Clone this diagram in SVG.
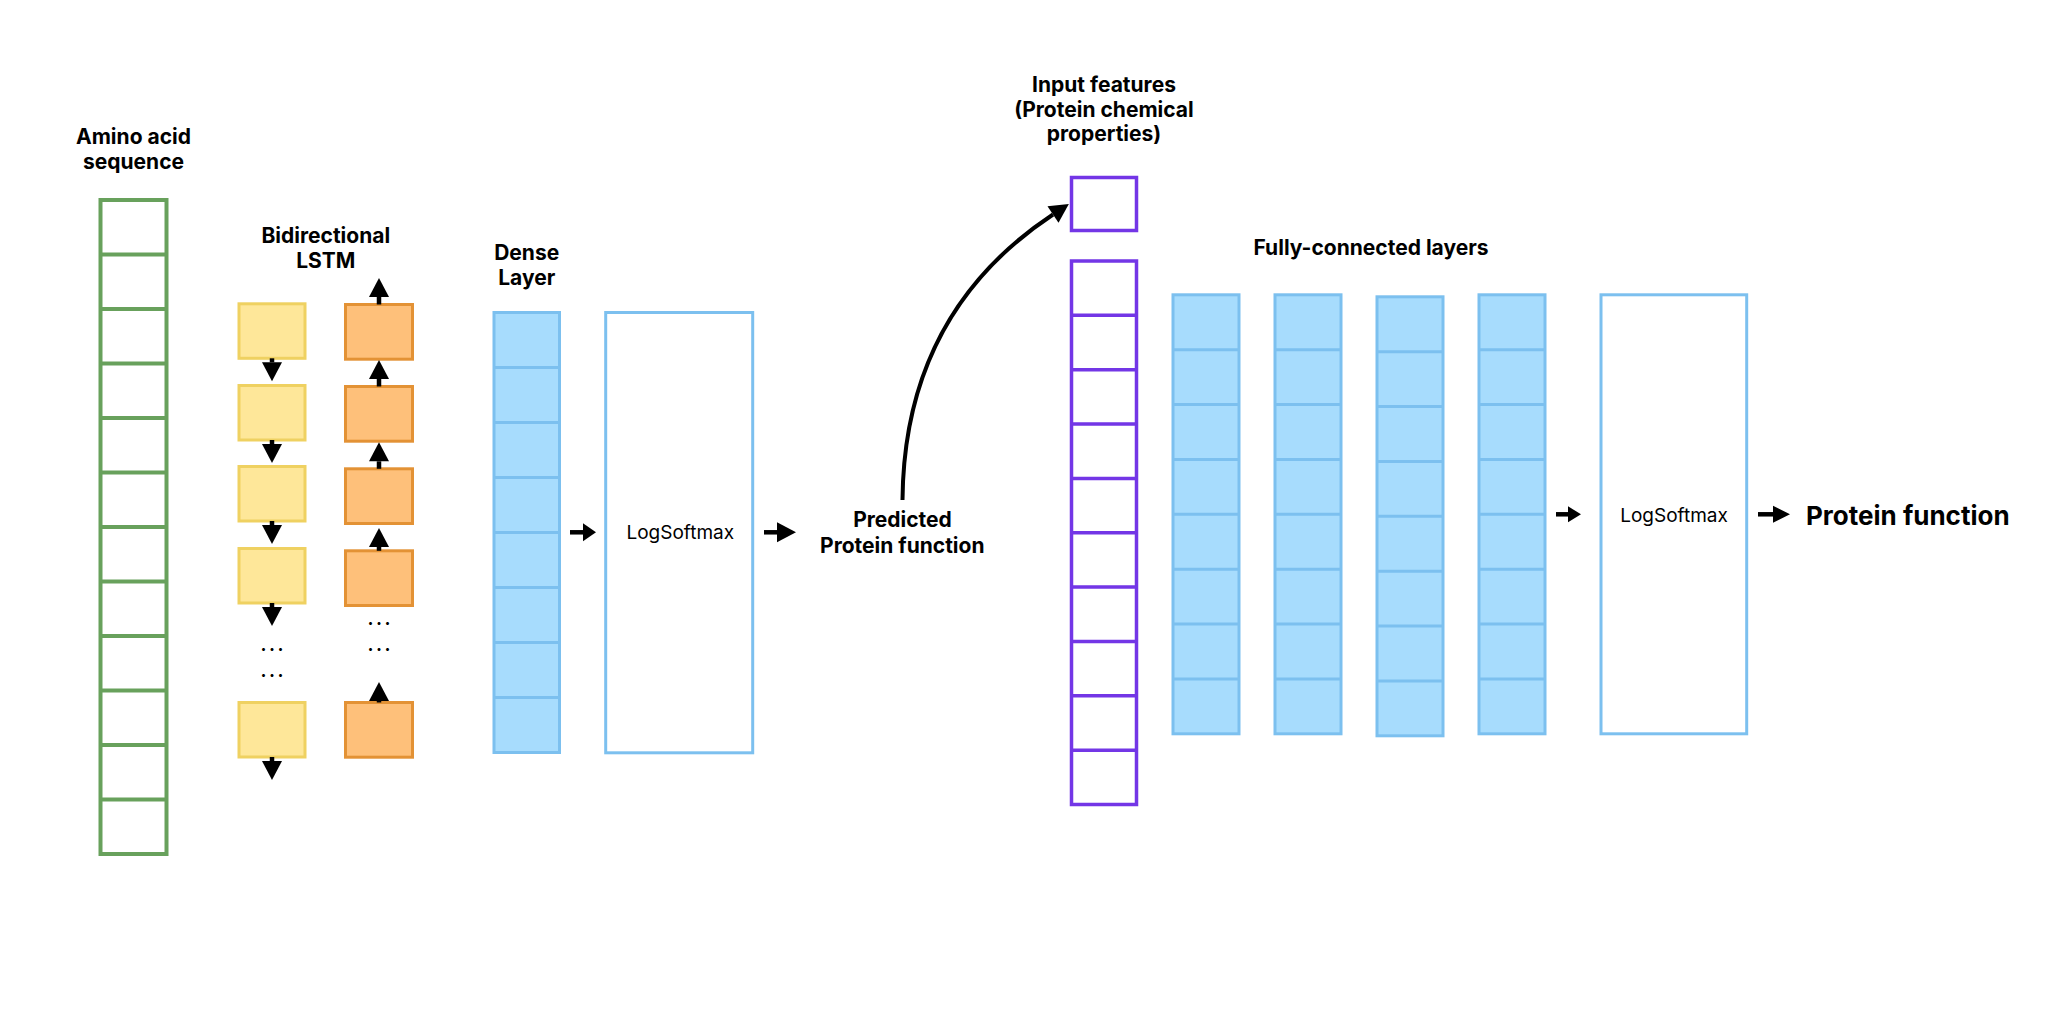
<svg xmlns="http://www.w3.org/2000/svg" width="2056" height="1014" viewBox="0 0 2056 1014">
<defs>
<style>
text{font-family:Inter,"Liberation Sans",Arial,sans-serif;fill:#000}
.lbl{font-size:21px;font-weight:700;text-anchor:middle}
.ls{font-size:19px;font-weight:400;text-anchor:middle}
.big{font-size:26px;font-weight:700}
.dots{font-size:18px;font-weight:700;text-anchor:middle;letter-spacing:2.5px}
.green{fill:#fff;stroke:#68a15c;stroke-width:4}
.yellow{fill:#fee799;stroke:#efd161;stroke-width:3}
.orange{fill:#fec07a;stroke:#e39235;stroke-width:3}
.blue{fill:#a7dcfd;stroke:#7cc0ef;stroke-width:3}
.box{fill:#fff;stroke:#7cc0ef;stroke-width:3}
.purple{fill:#fff;stroke:#7336e6;stroke-width:3.5}
.gl{stroke:#68a15c;stroke-width:4}
.bl{stroke:#7cc0ef;stroke-width:3}
.pl{stroke:#7336e6;stroke-width:3.5}
.arr{stroke:#000;stroke-width:4.5;fill:none}
.vl{marker-end:url(#mkL)}
.cur{stroke:#000;stroke-width:4;fill:none;marker-end:url(#mkL)}
</style>
<marker id="mkL" markerUnits="userSpaceOnUse" orient="auto" refX="0" refY="10" markerWidth="19" markerHeight="20" overflow="visible"><path d="M0,0 L19,10 L0,20 Z" fill="#000"/></marker>
<marker id="mkS" markerUnits="userSpaceOnUse" orient="auto" refX="0" refY="9" markerWidth="13" markerHeight="18" overflow="visible"><path d="M0,0 L13,9 L0,18 Z" fill="#000"/></marker>
<marker id="mkM" markerUnits="userSpaceOnUse" orient="auto" refX="0" refY="8.5" markerWidth="17" markerHeight="17" overflow="visible"><path d="M0,0 L17,8.5 L0,17 Z" fill="#000"/></marker>
<marker id="mkT" markerUnits="userSpaceOnUse" orient="auto" refX="0" refY="8" markerWidth="13" markerHeight="16" overflow="visible"><path d="M0,0 L13,8 L0,16 Z" fill="#000"/></marker>
</defs>
<rect x="0" y="0" width="2056" height="1014" fill="#fff"/>

<g id="amino-sequence">
<text class="lbl" x="133.5" y="144.3">Amino acid</text>
<text class="lbl" x="133.5" y="168.8">sequence</text>
<rect class="green" x="100.5" y="200" width="66" height="654"/>
<path class="gl" d="M100.5,254.5H166.5M100.5,309H166.5M100.5,363.5H166.5M100.5,418H166.5M100.5,472.5H166.5M100.5,527H166.5M100.5,581.5H166.5M100.5,636H166.5M100.5,690.5H166.5M100.5,745H166.5M100.5,799.5H166.5"/>
</g>

<g id="bilstm-label">
<text class="lbl" x="325.8" y="242.7">Bidirectional</text>
<text class="lbl" x="325.8" y="268">LSTM</text>
</g>

<g id="lstm-forward">
<rect class="yellow" x="239" y="303.8" width="66" height="54.5"/>
<rect class="yellow" x="239" y="385.5" width="66" height="54.5"/>
<rect class="yellow" x="239" y="466.5" width="66" height="54.5"/>
<rect class="yellow" x="239" y="548.5" width="66" height="54.5"/>
<text class="dots" x="273.3" y="650.5">...</text>
<text class="dots" x="273.3" y="676.5">...</text>
<rect class="yellow" x="239" y="702.5" width="66" height="54.5"/>
</g>

<g id="lstm-backward">
<rect class="orange" x="345.5" y="304.5" width="67" height="54.7"/>
<rect class="orange" x="345.5" y="386.5" width="67" height="54.7"/>
<rect class="orange" x="345.5" y="468.8" width="67" height="54.7"/>
<rect class="orange" x="345.5" y="550.8" width="67" height="54.7"/>
<text class="dots" x="380.3" y="624.5">...</text>
<text class="dots" x="380.3" y="650.5">...</text>
<rect class="orange" x="345.5" y="702.5" width="67" height="54.7"/>
</g>

<g id="dense-layer">
<text class="lbl" x="526.7" y="260">Dense</text>
<text class="lbl" x="526.7" y="285">Layer</text>
<rect class="blue" x="494" y="312.5" width="65.5" height="440"/>
<path class="bl" d="M494,367.5H559.5M494,422.5H559.5M494,477.5H559.5M494,532.5H559.5M494,587.5H559.5M494,642.5H559.5M494,697.5H559.5"/>
</g>

<g id="logsoftmax-1">
<rect class="box" x="605.7" y="312.5" width="147" height="440.3"/>
<text class="ls" x="680.3" y="539.3">LogSoftmax</text>
</g>

<g id="predicted-function">
<text class="lbl" x="902.5" y="527.3">Predicted</text>
<text class="lbl" x="902.3" y="553.3">Protein function</text>
</g>

<g id="input-features">
<text class="lbl" x="1104" y="92.3">Input features</text>
<text class="lbl" x="1104" y="116.7">(Protein chemical</text>
<text class="lbl" x="1104" y="141">properties)</text>
<rect class="purple" x="1071.5" y="177.5" width="65" height="53"/>
<rect class="purple" x="1071.5" y="261" width="65" height="543.5"/>
<path class="pl" d="M1071.5,315.3H1136.5M1071.5,369.7H1136.5M1071.5,424H1136.5M1071.5,478.4H1136.5M1071.5,532.8H1136.5M1071.5,587.1H1136.5M1071.5,641.5H1136.5M1071.5,695.8H1136.5M1071.5,750.2H1136.5"/>
</g>

<g id="fc-layers">
<text class="lbl" x="1371" y="255">Fully-connected layers</text>
<rect class="blue" x="1173" y="294.8" width="66" height="439"/>
<path class="bl" d="M1173,349.7H1239M1173,404.6H1239M1173,459.5H1239M1173,514.3H1239M1173,569.2H1239M1173,624.1H1239M1173,679H1239"/>
<rect class="blue" x="1275" y="294.8" width="66" height="439"/>
<path class="bl" d="M1275,349.7H1341M1275,404.6H1341M1275,459.5H1341M1275,514.3H1341M1275,569.2H1341M1275,624.1H1341M1275,679H1341"/>
<rect class="blue" x="1377" y="296.8" width="66" height="439"/>
<path class="bl" d="M1377,351.7H1443M1377,406.6H1443M1377,461.5H1443M1377,516.3H1443M1377,571.2H1443M1377,626.1H1443M1377,681H1443"/>
<rect class="blue" x="1479" y="294.8" width="66" height="439"/>
<path class="bl" d="M1479,349.7H1545M1479,404.6H1545M1479,459.5H1545M1479,514.3H1545M1479,569.2H1545M1479,624.1H1545M1479,679H1545"/>
</g>

<g id="logsoftmax-2">
<rect class="box" x="1601" y="294.8" width="145.7" height="439"/>
<text class="ls" x="1674" y="522.3">LogSoftmax</text>
</g>

<g id="protein-function">
<text class="big" x="1806" y="525">Protein function</text>
</g>

<g id="connectors">
<line class="arr vl" x1="272" y1="358.3" x2="272" y2="362.3"/>
<line class="arr vl" x1="272" y1="440" x2="272" y2="444"/>
<line class="arr vl" x1="272" y1="521" x2="272" y2="525"/>
<line class="arr vl" x1="272" y1="603" x2="272" y2="607"/>
<line class="arr vl" x1="272" y1="757" x2="272" y2="761"/>
<line class="arr vl" x1="379" y1="304.5" x2="379" y2="297"/>
<line class="arr vl" x1="379" y1="386.5" x2="379" y2="379"/>
<line class="arr vl" x1="379" y1="468.8" x2="379" y2="461.3"/>
<line class="arr vl" x1="379" y1="550.8" x2="379" y2="547"/>
<line class="arr vl" x1="379" y1="702.5" x2="379" y2="701"/>
<line class="arr" x1="570" y1="532.3" x2="583" y2="532.3" marker-end="url(#mkS)"/>
<line class="arr" x1="764" y1="532.3" x2="777" y2="532.3" marker-end="url(#mkL)"/>
<path class="cur" d="M902.5,500 Q904,313 1053,214.5"/>
<line class="arr" x1="1556" y1="514.3" x2="1568" y2="514.3" marker-end="url(#mkT)"/>
<line class="arr" x1="1758" y1="514.3" x2="1773" y2="514.3" marker-end="url(#mkM)"/>
</g>
</svg>
